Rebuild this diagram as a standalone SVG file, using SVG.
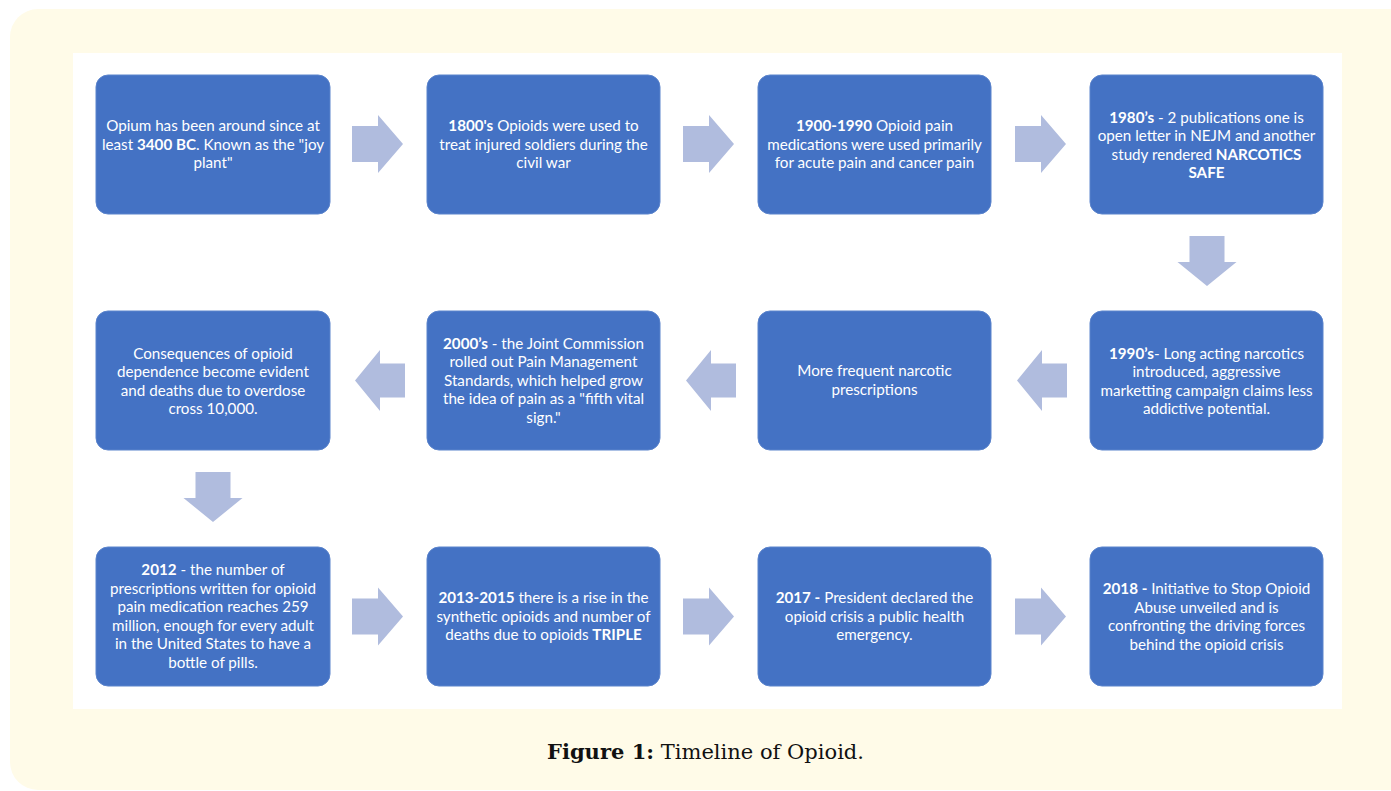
<svg xmlns="http://www.w3.org/2000/svg" width="1391" height="791" viewBox="0 0 1391 791">
<style>
.bg{fill:#FFFBE8}
.panel{fill:#FFFFFF}
.box{fill:#4472C4;stroke:#5B84CC;stroke-width:1}
.arr{fill:#B0BCDE}
.t{font-family:Lato,"Liberation Sans",sans-serif;font-size:15.2px;fill:#FFFFFF;text-anchor:middle}
.b{font-weight:bold}
.cap{font-family:"DejaVu Serif","Liberation Serif",serif;font-size:20px;fill:#111111;text-anchor:middle}
</style>
<defs>
<polygon id="ra" points="0,-18 26,-18 26,-29 51,0 26,29 26,18 0,18"/>
<polygon id="la" points="0,0 25,-30.5 25,-17 50,-17 50,17 25,17 25,30.5"/>
<polygon id="da" points="-17.5,0 17.5,0 17.5,26 29.5,26 0,50 -29.5,26 -17.5,26"/>
</defs>
<rect class="bg" x="10" y="9" width="1410" height="781" rx="28"/>
<rect class="panel" x="73" y="53" width="1269" height="656"/>

<g id="connectors" class="arr">
<use href="#ra" x="352" y="144"/>
<use href="#ra" x="683" y="144"/>
<use href="#ra" x="1015" y="144"/>
<use href="#da" x="1207" y="236"/>
<use href="#la" x="1017" y="380.5"/>
<use href="#la" x="686" y="380.5"/>
<use href="#la" x="355" y="380.5"/>
<use href="#da" x="213" y="472"/>
<use href="#ra" x="352" y="616.5"/>
<use href="#ra" x="683" y="616.5"/>
<use href="#ra" x="1015" y="616.5"/>
</g>

<g id="n1">
<rect class="box" x="96" y="75" width="234" height="139" rx="12"/>
<text class="t" x="213" y="131">Opium has been around since at</text>
<text class="t" x="213" y="149.5">least <tspan class="b">3400 BC</tspan>. Known as the "joy</text>
<text class="t" x="213" y="168">plant"</text>
</g>
<g id="n2">
<rect class="box" x="427" y="75" width="233" height="139" rx="12"/>
<text class="t" x="543.5" y="131"><tspan class="b">1800's</tspan> Opioids were used to</text>
<text class="t" x="543.5" y="149.5">treat injured soldiers during the</text>
<text class="t" x="543.5" y="168">civil war</text>
</g>
<g id="n3">
<rect class="box" x="758" y="75" width="233" height="139" rx="12"/>
<text class="t" x="874.5" y="131"><tspan class="b">1900-1990</tspan> Opioid pain</text>
<text class="t" x="874.5" y="149.5">medications were used primarily</text>
<text class="t" x="874.5" y="168">for acute pain and cancer pain</text>
</g>
<g id="n4">
<rect class="box" x="1090" y="75" width="233" height="139" rx="12"/>
<text class="t" x="1206.5" y="122.5"><tspan class="b">1980’s</tspan> - 2 publications one is</text>
<text class="t" x="1206.5" y="141">open letter in NEJM and another</text>
<text class="t" x="1206.5" y="159.5">study rendered <tspan class="b">NARCOTICS</tspan></text>
<text class="t b" x="1206.5" y="178">SAFE</text>
</g>

<g id="n5">
<rect class="box" x="1090" y="311" width="233" height="139" rx="12"/>
<text class="t" x="1206.5" y="358.5"><tspan class="b">1990’s</tspan>- Long acting narcotics</text>
<text class="t" x="1206.5" y="377">introduced, aggressive</text>
<text class="t" x="1206.5" y="395.5">marketting campaign claims less</text>
<text class="t" x="1206.5" y="414">addictive potential.</text>
</g>
<g id="n6">
<rect class="box" x="758" y="311" width="233" height="139" rx="12"/>
<text class="t" x="874.5" y="376">More frequent narcotic</text>
<text class="t" x="874.5" y="394.5">prescriptions</text>
</g>
<g id="n7">
<rect class="box" x="427" y="311" width="233" height="139" rx="12"/>
<text class="t" x="543.5" y="348.5"><tspan class="b">2000’s</tspan> - the Joint Commission</text>
<text class="t" x="543.5" y="367">rolled out Pain Management</text>
<text class="t" x="543.5" y="385.5">Standards, which helped grow</text>
<text class="t" x="543.5" y="404">the idea of pain as a "fifth vital</text>
<text class="t" x="543.5" y="422.5">sign."</text>
</g>
<g id="n8">
<rect class="box" x="96" y="311" width="234" height="139" rx="12"/>
<text class="t" x="213" y="358.5">Consequences of opioid</text>
<text class="t" x="213" y="377">dependence become evident</text>
<text class="t" x="213" y="395.5">and deaths due to overdose</text>
<text class="t" x="213" y="414">cross 10,000.</text>
</g>

<g id="n9">
<rect class="box" x="96" y="547" width="234" height="139" rx="12"/>
<text class="t" x="213" y="575.3"><tspan class="b">2012</tspan> - the number of</text>
<text class="t" x="213" y="593.8">prescriptions written for opioid</text>
<text class="t" x="213" y="612.3">pain medication reaches 259</text>
<text class="t" x="213" y="630.8">million, enough for every adult</text>
<text class="t" x="213" y="649.3">in the United States to have a</text>
<text class="t" x="213" y="667.8">bottle of pills.</text>
</g>
<g id="n10">
<rect class="box" x="427" y="547" width="233" height="139" rx="12"/>
<text class="t" x="543.5" y="603"><tspan class="b">2013-2015</tspan> there is a rise in the</text>
<text class="t" x="543.5" y="621.5">synthetic opioids and number of</text>
<text class="t" x="543.5" y="640">deaths due to opioids <tspan class="b">TRIPLE</tspan></text>
</g>
<g id="n11">
<rect class="box" x="758" y="547" width="233" height="139" rx="12"/>
<text class="t" x="874.5" y="603"><tspan class="b">2017 -</tspan>  President declared the</text>
<text class="t" x="874.5" y="621.5">opioid crisis a public health</text>
<text class="t" x="874.5" y="640">emergency.</text>
</g>
<g id="n12">
<rect class="box" x="1090" y="547" width="233" height="139" rx="12"/>
<text class="t" x="1206.5" y="594"><tspan class="b">2018 -</tspan> Initiative to Stop Opioid</text>
<text class="t" x="1206.5" y="612.5">Abuse unveiled and is</text>
<text class="t" x="1206.5" y="631">confronting the driving forces</text>
<text class="t" x="1206.5" y="649.5">behind the opioid crisis</text>
</g>

<text class="cap" x="705.5" y="759" textLength="317" lengthAdjust="spacingAndGlyphs"><tspan font-weight="bold">Figure 1:</tspan> Timeline of Opioid.</text>
</svg>
